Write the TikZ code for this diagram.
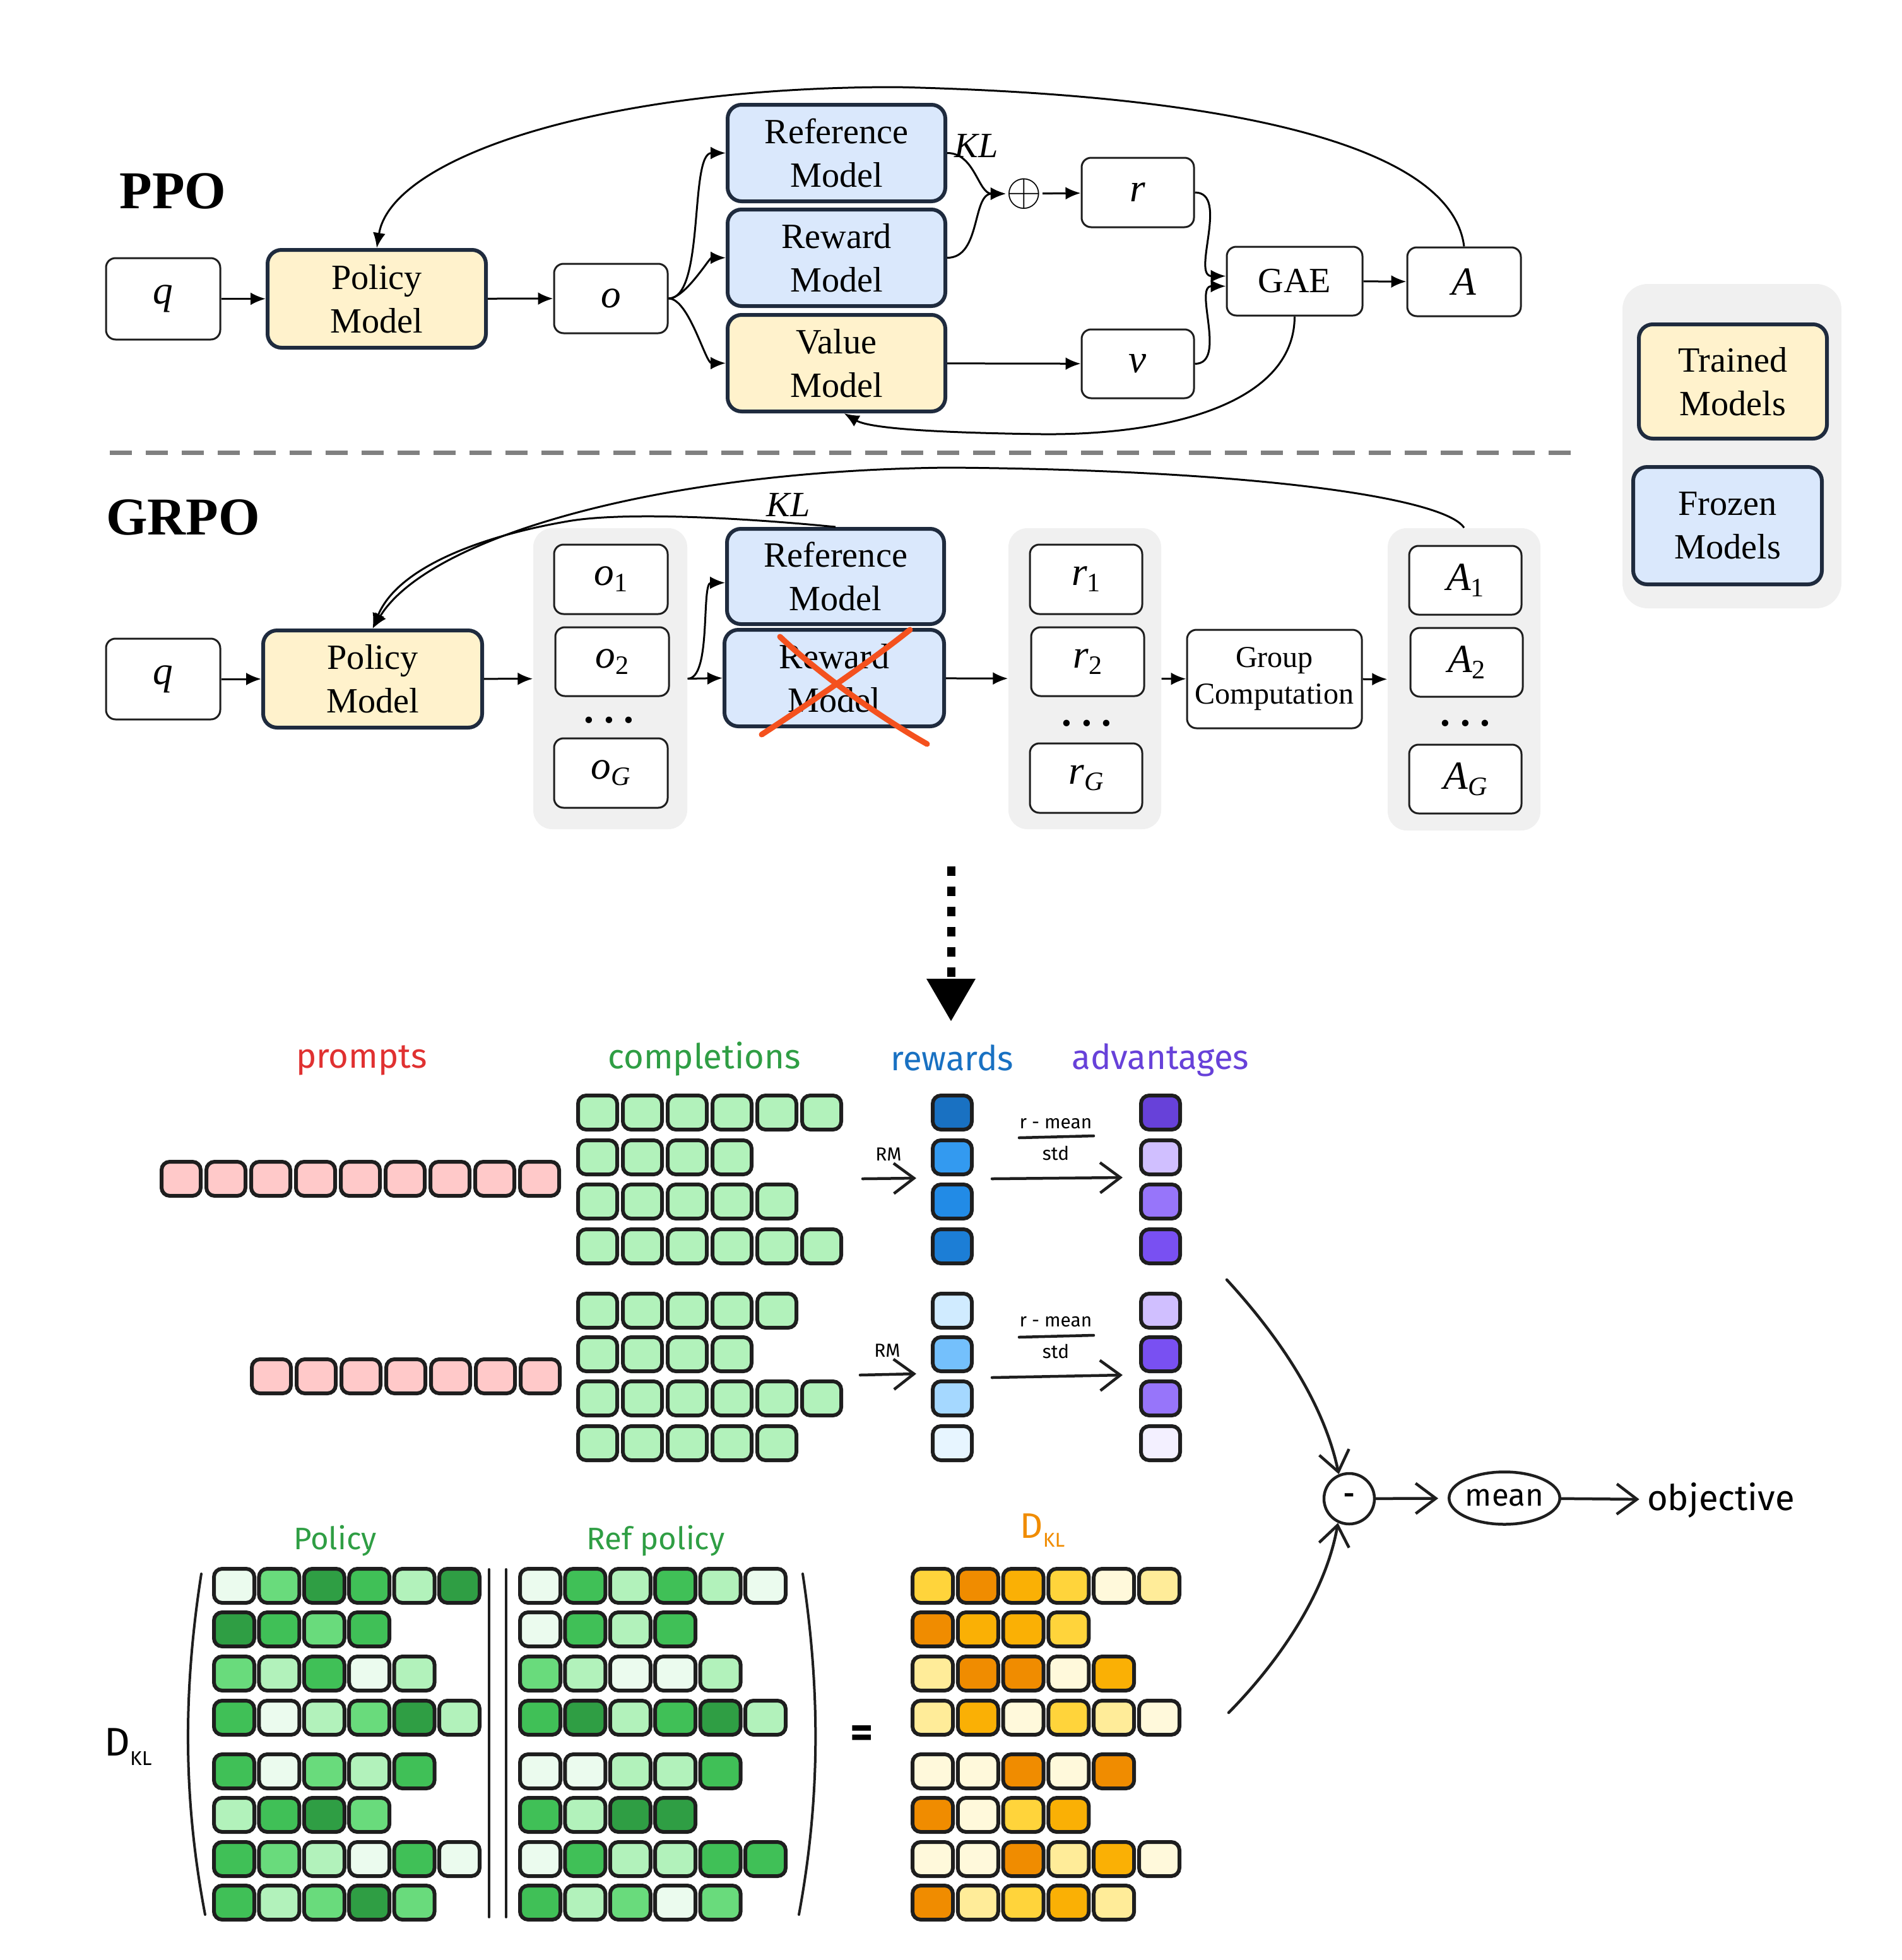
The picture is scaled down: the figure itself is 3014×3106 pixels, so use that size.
\documentclass[tikz,border=0pt]{standalone}
\usepackage{fontspec}
\setmainfont{Liberation Serif}
\newfontfamily\hand{Fira Sans}
\usetikzlibrary{arrows.meta,shapes.geometric,calc}
\definecolor{navy}{HTML}{1F2B3E}
\definecolor{trainfill}{HTML}{FFF2CC}
\definecolor{frozfill}{HTML}{DAE8FC}
\definecolor{grpgray}{HTML}{F0F0F0}
\definecolor{ink}{HTML}{1E1E1E}
\definecolor{xred}{HTML}{F4511E}
\definecolor{pk}{HTML}{FFC9C9}
\definecolor{gL}{HTML}{EBFBEE}
\definecolor{gLi}{HTML}{B2F2BB}
\definecolor{gM}{HTML}{69DB7C}
\definecolor{gG}{HTML}{40C057}
\definecolor{gD}{HTML}{2F9E44}
\definecolor{oY}{HTML}{FFD43B}
\definecolor{oO}{HTML}{F08C00}
\definecolor{oA}{HTML}{FAB005}
\definecolor{oV}{HTML}{FFF9DB}
\definecolor{oP}{HTML}{FFEC99}
\definecolor{bA}{HTML}{1971C2}
\definecolor{bB}{HTML}{339AF0}
\definecolor{bC}{HTML}{228BE6}
\definecolor{bD}{HTML}{1C7ED6}
\definecolor{bE}{HTML}{D0EBFF}
\definecolor{bF}{HTML}{74C0FC}
\definecolor{bG}{HTML}{A5D8FF}
\definecolor{bH}{HTML}{E7F5FF}
\definecolor{vA}{HTML}{6741D9}
\definecolor{vB}{HTML}{D0BFFF}
\definecolor{vC}{HTML}{9775FA}
\definecolor{vD}{HTML}{7950F2}
\definecolor{vE}{HTML}{F3F0FF}
\definecolor{tred}{HTML}{E03131}
\definecolor{tgreen}{HTML}{2F9E44}
\definecolor{tblue}{HTML}{1971C2}
\definecolor{tpurple}{HTML}{6741D9}
\definecolor{torange}{HTML}{F08C00}
\definecolor{sepgray}{HTML}{808080}
\newcommand\mdl{\fontsize{16}{19.6}\selectfont}
\newcommand\varf{\fontsize{18}{20}\selectfont\itshape}
\newcommand\sbs[1]{\raisebox{-0.35ex}{\fontsize{12}{12}\selectfont\upshape #1}}
\newcommand\hw[1]{\hand\fontsize{#1}{#1}\selectfont}
\newcommand\mkrow[5]{\foreach \cc [count=\ii from 0] in {#5}{\filldraw[cellst, fill=\cc] ({#1+\ii*#3},#2) rectangle ++(#4,54);}}
\tikzset{
  sz/.style 2 args={minimum width=#1, minimum height=#2},
  model/.style={draw=navy, line width=0.6mm, rounded corners=2.2mm, align=center, font=\mdl, inner sep=0pt},
  trained/.style={model, fill=trainfill},
  frozen/.style={model, fill=frozfill},
  var/.style={draw=ink, line width=0.3mm, rounded corners=1.5mm, fill=white, align=center, font=\varf, inner sep=0pt},
  grp/.style={fill=grpgray, rounded corners=3mm, inner sep=0pt},
  arr/.style={-{Latex[length=2.4mm,width=2mm]}, line width=0.3mm},
  cellst/.style={draw=ink, line width=0.6mm, rounded corners=1.3mm},
  sk/.style={draw=ink, line width=0.45mm, line cap=round},
  skarr/.style={sk, -{Straight Barb[length=3.2mm,width=4.8mm]}},
}
\begin{document}
\begin{tikzpicture}[x=0.1mm,y=-0.1mm]
\useasboundingbox (0,0) rectangle (3014,3106);

% ---------------- PPO ----------------
\node[font=\fontsize{24}{24}\selectfont\bfseries] (tppo) at (274,303) {PPO};
\node[var, sz={18.1mm}{12.9mm}] (ppoq) at (258.5,473.5) {q};
\node[trained, sz={34.6mm}{15.5mm}] (ppopol) at (597,473.5) {Policy\\Model};
\node[var, sz={18mm}{11mm}] (ppoo) at (968,473) {o};
\node[frozen, sz={34.5mm}{15.3mm}] (ppore) at (1325.5,242.5) {Reference\\Model};
\node[frozen, sz={34.5mm}{15.3mm}] (pporw) at (1325.5,408.5) {Reward\\Model};
\node[trained, sz={34.5mm}{15.3mm}] (ppoval) at (1325.5,575.5) {Value\\Model};
\node[font=\fontsize{16}{16}\selectfont\itshape] (ppokl) at (1547,231) {KL};
\node[inner sep=0pt, font=\fontsize{21}{21}\selectfont] (ppoplus) at (1623,307) {$\oplus$};
\node[var, sz={17.8mm}{11mm}] (ppor) at (1803,305) {r};
\node[var, sz={17.8mm}{10.9mm}] (ppov) at (1803,576.5) {v};
\node[var, sz={21.5mm}{10.9mm}, font=\mdl] (ppogae) at (2051.5,445.5) {GAE};
\node[var, sz={18mm}{10.9mm}] (ppoa) at (2320,446.5) {A};

\draw[arr] (ppoq) -- (ppopol);
\draw[arr] (ppopol) -- (ppoo);
\draw[arr] (ppoo.east) to[out=0,in=180,looseness=0.6] (ppore.west);
\draw[arr] (ppoo.east) to[out=0,in=180,looseness=0.6] (pporw.west);
\draw[arr] (ppoo.east) to[out=0,in=180,looseness=0.6] (ppoval.west);
\draw[arr] (ppore.east) to[out=0,in=180] (ppoplus.west);
\draw[arr] (pporw.east) to[out=0,in=180] (ppoplus.west);
\draw[arr] (ppoplus) -- (ppor);
\draw[arr] (ppoval) -- (ppov);
\draw[arr] (ppor.east) to[out=0,in=180] ($(ppogae.west)+(0,-8)$);
\draw[arr] (ppov.east) to[out=0,in=180] ($(ppogae.west)+(0,8)$);
\draw[arr] (ppogae) -- (ppoa);
\draw[arr] (ppoa.north) .. controls (2300,230) and (1950,150) .. (1420,138)
  .. controls (950,138) and (620,250) .. (ppopol.north);
\draw[arr] (ppogae.south) .. controls (2051,640) and (1850,690) .. (1650,688)
  .. controls (1500,686) and (1380,680) .. ($(ppoval.south)+(12,0)$);

% separator
\draw[sepgray, line width=0.7mm, dash pattern=on 3.5mm off 2.2mm] (174,717) -- (2491,717);

% legend
\node[grp, sz={34.7mm}{51.4mm}, rounded corners=4mm] (legbg) at (2744.5,707) {};
\node[trained, sz={29.8mm}{18.1mm}] (legtr) at (2746,604.5) {Trained\\Models};
\node[frozen, sz={29.9mm}{18.6mm}] (legfr) at (2737.5,833) {Frozen\\Models};

% ---------------- GRPO ----------------
\node[font=\fontsize{24}{24}\selectfont\bfseries] (tgrpo) at (290,820) {GRPO};
\node[var, sz={18.1mm}{12.8mm}] (grpoq) at (258.5,1076) {q};
\node[trained, sz={34.7mm}{15.4mm}] (grpopol) at (590.5,1076) {Policy\\Model};
\node[grp, sz={24.4mm}{47.7mm}] (grpoobg) at (967,1075.5) {};
\node[var, sz={18mm}{11mm}] (grpoo1) at (968,918) {o\sbs{1}};
\node[var, sz={18mm}{10.9mm}] (grpoo2) at (970,1048.5) {o\sbs{2}};
\node[font=\fontsize{18}{18}\selectfont\bfseries, inner sep=0pt] (grpoodots) at (965,1141) {.\ .\ .};
\node[var, sz={18mm}{11mm}] (grpooG) at (968,1225) {o\sbs{\itshape G}};
\node[frozen, sz={34.4mm}{15.1mm}] (grpore) at (1324,913.5) {Reference\\Model};
\node[frozen, sz={34.8mm}{15.3mm}] (grporw) at (1322,1074.5) {Reward\\Model};
\node[font=\fontsize{16}{16}\selectfont\itshape] (grpokl) at (1249,800) {KL};
\node[grp, sz={24.2mm}{47.7mm}] (grporbg) at (1719,1075.5) {};
\node[var, sz={17.8mm}{11mm}] (grpor1) at (1721,918) {r\sbs{1}};
\node[var, sz={17.9mm}{10.9mm}] (grpor2) at (1723.5,1048.5) {r\sbs{2}};
\node[font=\fontsize{18}{18}\selectfont\bfseries, inner sep=0pt] (grpordots) at (1722,1146) {.\ .\ .};
\node[var, sz={17.8mm}{11mm}] (grporG) at (1721,1233) {r\sbs{\itshape G}};
\node[var, sz={27.7mm}{15.6mm}, font=\fontsize{13.7}{16.5}\selectfont] (grpogc) at (2019.5,1076) {Group\\Computation};
\node[grp, sz={24.2mm}{47.9mm}] (grpoabg) at (2320,1076.5) {};
\node[var, sz={17.8mm}{10.9mm}] (grpoa1) at (2322,919.5) {A\sbs{1}};
\node[var, sz={17.8mm}{10.9mm}] (grpoa2) at (2324,1049.5) {A\sbs{2}};
\node[font=\fontsize{18}{18}\selectfont\bfseries, inner sep=0pt] (grpoadots) at (2322,1146) {.\ .\ .};
\node[var, sz={17.8mm}{10.9mm}] (grpoaG) at (2322,1234.5) {A\sbs{\itshape G}};

\draw[arr] (grpoq) -- (grpopol);
\draw[arr] (grpopol) -- (grpoobg);
\draw[arr] (grpoobg.east) -- (grporw.west);
\draw[arr] (grpoobg.east) to[out=0,in=180,looseness=0.6] ($(grpore.west)+(0,10)$);
\draw[arr] (grporw) -- (grporbg);
\draw[arr] (grporbg) -- (grpogc);
\draw[arr] (grpogc) -- (grpoabg);
\draw[arr] (grpoabg.north) .. controls (2290,790) and (2000,745) .. (1505,741)
  .. controls (1050,745) and (680,850) .. (grpopol.north);
\draw[arr] (grpore.north) .. controls (1150,818) and (980,812) .. (900,826)
  .. controls (760,850) and (630,900) .. (grpopol.north);

% red cross
\draw[xred, line width=0.9mm, line cap=round] (1207,1164) .. controls (1290,1110) and (1390,1040) .. (1442,998);
\draw[xred, line width=0.9mm, line cap=round] (1236,1009) .. controls (1300,1070) and (1400,1140) .. (1469,1179);

% dotted arrow
\coordinate (dtop) at (1507,1373);
\coordinate (dbot) at (1507,1551);
\draw[line width=1.3mm, dash pattern=on 1.5mm off 1.7mm] (dtop) -- (dbot);
\fill (1468,1551) -- (1546,1551) -- (1507,1618) -- cycle;

% ---------------- bottom: group computation ----------------
\node[font=\hw{15.5}, text=tred] (lprompts) at (573,1680) {prompts};
\node[font=\hw{15.5}, text=tgreen] (lcompl) at (1116,1678) {completions};
\node[font=\hw{15.5}, text=tblue] (lrew) at (1509,1676) {rewards};
\node[font=\hw{15.5}, text=tpurple] (ladv) at (1839,1680) {advantages};

\mkrow{256}{1841}{71}{62}{pk,pk,pk,pk,pk,pk,pk,pk,pk}
\mkrow{399}{2154}{71}{62}{pk,pk,pk,pk,pk,pk,pk}

\mkrow{916}{1736}{71}{62}{gLi,gLi,gLi,gLi,gLi,gLi}
\mkrow{916}{1807}{71}{62}{gLi,gLi,gLi,gLi}
\mkrow{916}{1877}{71}{62}{gLi,gLi,gLi,gLi,gLi}
\mkrow{916}{1948}{71}{62}{gLi,gLi,gLi,gLi,gLi,gLi}
\mkrow{916}{2050}{71}{62}{gLi,gLi,gLi,gLi,gLi}
\mkrow{916}{2119}{71}{62}{gLi,gLi,gLi,gLi}
\mkrow{916}{2189}{71}{62}{gLi,gLi,gLi,gLi,gLi,gLi}
\mkrow{916}{2260}{71}{62}{gLi,gLi,gLi,gLi,gLi}

\foreach \yy/\cb/\cv in {1736/bA/vA,1807/bB/vB,1877/bC/vC,1948/bD/vD,2050/bE/vB,2119/bF/vD,2189/bG/vC,2260/bH/vE}{
  \filldraw[cellst, fill=\cb] (1478,\yy) rectangle ++(62,54);
  \filldraw[cellst, fill=\cv] (1808,\yy) rectangle ++(62,54);
}

\node[font=\hw{8.5}] (rm1) at (1408,1829) {RM};
\node[font=\hw{8.5}] (rm2) at (1406,2140) {RM};
\draw[skarr] (1367,1868) -- (1452,1867);
\draw[skarr] (1363,2179) -- (1452,2177);
\node[font=\hw{8.5}] (fr1n) at (1673,1781) {r - mean};
\draw[sk] (1615,1803) -- (1733,1800);
\node[font=\hw{8.5}] (fr1d) at (1673,1827) {std};
\draw[skarr] (1572,1868) -- (1779,1866);
\node[font=\hw{8.5}] (fr2n) at (1673,2095) {r - mean};
\draw[sk] (1615,2119) -- (1733,2116);
\node[font=\hw{8.5}] (fr2d) at (1673,2141) {std};
\draw[skarr] (1572,2183) -- (1779,2179);

% objective
\node[circle, draw=ink, line width=0.45mm, minimum size=8mm, inner sep=0pt, font=\hw{12}\bfseries] (minus) at (2138,2375) {-};
\node[ellipse, draw=ink, line width=0.45mm, minimum width=16.6mm, minimum height=8.3mm, inner sep=0pt, font=\hw{14}] (mean) at (2384,2374) {mean};
\node[font=\hw{16}] (obj) at (2727,2377) {objective};
\coordinate (upstart) at (1944,2028);
\coordinate (lowstart) at (1947,2714);
\draw[skarr] (upstart) .. controls (2010,2100) and (2095,2210) .. (minus.113);
\draw[skarr] (lowstart) .. controls (2020,2640) and (2100,2530) .. (minus.245);
\draw[skarr, shorten >=1.5mm] (minus) -- (mean);
\draw[skarr] (mean) -- (obj);

% ---------------- bottom: KL ----------------
\node[font=\hw{14}, text=tgreen] (lpol) at (531,2442) {Policy};
\node[font=\hw{14}, text=tgreen] (lref) at (1039,2442) {Ref policy};
\node[font=\hw{16}, text=torange] (ldkl) at (1652,2425) {D\raisebox{-0.45ex}{\hw{9}KL}};
\node[font=\hw{18}] (dklleft) at (203,2768) {D\raisebox{-0.45ex}{\hw{9}KL}};
\node[font=\hw{20}\bfseries] (eqsign) at (1366,2752) {=};

\draw[sk, line width=0.4mm] (319,2494) .. controls (290,2680) and (290,2850) .. (325,3034);
\draw[sk, line width=0.4mm] (775,2487) -- (775,3038);
\draw[sk, line width=0.4mm] (802,2487) -- (802,3038);
\draw[sk, line width=0.4mm] (1272,2494) .. controls (1300,2680) and (1300,2850) .. (1266,3034);

\mkrow{339}{2486}{71.4}{64}{gL,gM,gD,gG,gLi,gD}
\mkrow{339}{2555}{71.4}{64}{gD,gG,gM,gG}
\mkrow{339}{2625}{71.4}{64}{gM,gLi,gG,gL,gLi}
\mkrow{339}{2695}{71.4}{64}{gG,gL,gLi,gM,gD,gLi}
\mkrow{339}{2780}{71.4}{64}{gG,gL,gM,gLi,gG}
\mkrow{339}{2849}{71.4}{64}{gLi,gG,gD,gM}
\mkrow{339}{2919}{71.4}{64}{gG,gM,gLi,gL,gG,gL}
\mkrow{339}{2988}{71.4}{64}{gG,gLi,gM,gD,gM}

\mkrow{824}{2486}{71.4}{64}{gL,gG,gLi,gG,gLi,gL}
\mkrow{824}{2555}{71.4}{64}{gL,gG,gLi,gG}
\mkrow{824}{2625}{71.4}{64}{gM,gLi,gL,gL,gLi}
\mkrow{824}{2695}{71.4}{64}{gG,gD,gLi,gG,gD,gLi}
\mkrow{824}{2780}{71.4}{64}{gL,gL,gLi,gLi,gG}
\mkrow{824}{2849}{71.4}{64}{gG,gLi,gD,gD}
\mkrow{824}{2919}{71.4}{64}{gL,gG,gLi,gLi,gG,gG}
\mkrow{824}{2988}{71.4}{64}{gG,gLi,gM,gL,gM}

\mkrow{1446}{2486}{71.8}{64}{oY,oO,oA,oY,oV,oP}
\mkrow{1446}{2555}{71.8}{64}{oO,oA,oA,oY}
\mkrow{1446}{2625}{71.8}{64}{oP,oO,oO,oV,oA}
\mkrow{1446}{2695}{71.8}{64}{oP,oA,oV,oY,oP,oV}
\mkrow{1446}{2780}{71.8}{64}{oV,oV,oO,oV,oO}
\mkrow{1446}{2849}{71.8}{64}{oO,oV,oY,oA}
\mkrow{1446}{2919}{71.8}{64}{oV,oV,oO,oP,oA,oV}
\mkrow{1446}{2988}{71.8}{64}{oO,oP,oY,oA,oP}
\end{tikzpicture}
\end{document}
